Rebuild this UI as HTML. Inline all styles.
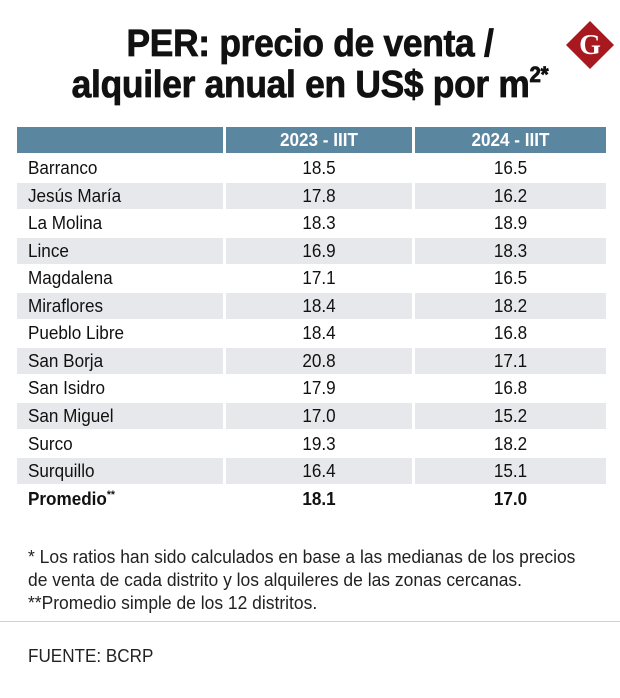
<!DOCTYPE html>
<html><head><meta charset="utf-8">
<style>
body{margin:0;background:#fff;}
#root{position:relative;width:620px;height:698px;overflow:hidden;font-family:"Liberation Sans",sans-serif;color:#111;}
.t{position:absolute;white-space:nowrap;}
.cell{position:absolute;height:26px;}
.txt{position:absolute;white-space:nowrap;font-size:18px;line-height:26px;transform:scaleX(0.95);}
</style></head>
<body>
<div id="root">
  <div class="t" style="left:0;width:620px;top:24px;text-align:center;font-weight:bold;font-size:38px;line-height:41px;transform:scaleX(0.93);letter-spacing:-0.3px;-webkit-text-stroke:0.8px #111">PER: precio de venta /<br>alquiler anual en US$ por m<span style="font-size:22px;position:relative;top:-15px;line-height:0">2*</span></div>
  <svg style="position:absolute;left:566px;top:21px" width="48" height="48">
    <polygon points="24,0 48,24 24,48 0,24" fill="#a8191f"/>
    <text x="24" y="33" text-anchor="middle" font-family="Liberation Serif" font-weight="bold" font-size="28" fill="#fff">G</text>
  </svg>
  <div id="table"></div>
  <div class="t" style="left:28px;top:546px;font-size:18px;line-height:23px;transform:scaleX(0.97);transform-origin:0 0;color:#222">* Los ratios han sido calculados en base a las medianas de los precios<br>de venta de cada distrito y los alquileres de las zonas cercanas.<br>**Promedio simple de los 12 distritos.</div>
  <div style="position:absolute;left:0;top:621px;width:620px;height:1px;background:#d0d0d0"></div>
  <div class="t" style="left:28px;top:645px;font-size:18px;line-height:22px;transform:scaleX(0.95);transform-origin:0 0;color:#222">FUENTE: BCRP</div>
</div>
<script>
const districts=["Barranco","Jesús María","La Molina","Lince","Magdalena","Miraflores","Pueblo Libre","San Borja","San Isidro","San Miguel","Surco","Surquillo"];
const v2023=[18.5,17.8,18.3,16.9,17.1,18.4,18.4,20.8,17.9,17.0,19.3,16.4];
const v2024=[16.5,16.2,18.9,18.3,16.5,18.2,16.8,17.1,16.8,15.2,18.2,15.1];
const headers=["","2023 - IIIT","2024 - IIIT"];
const avg2023=18.1, avg2024=17.0;
const tbl=document.getElementById('table');
const cols=[[17,206],[226,186],[415,191]];
function cell(x,w,y,bg,text,align,bold,color,name){
  const c=document.createElement('div');c.className='cell';
  
  
  c.style.left=x+'px';c.style.width=w+'px';c.style.top=y+'px';c.style.background=bg;
  const s=document.createElement('span');s.className='txt';s.innerHTML=text;
  if(align==='left'){s.style.left='11px';s.style.transformOrigin='0 50%';}
  else{s.style.left='0';s.style.width=w+'px';s.style.textAlign='center';}
  if(bold)s.style.fontWeight='bold';
  if(color)s.style.color=color;
  c.appendChild(s);tbl.appendChild(c);
}
headers.forEach((h,j)=>cell(cols[j][0],cols[j][1],127,'#5b86a0',h,'center',true,'#fff','header-cell'));
const pitch=27.55;
districts.forEach((d,i)=>{
  const y=155+i*pitch;const bg=i%2?'#e6e8eb':'#fff';
  cell(cols[0][0],cols[0][1],y,bg,d,'left',false,null,'district-name');
  cell(cols[1][0],cols[1][1],y,bg,v2023[i].toFixed(1),'center',false,null,'value-2023');
  cell(cols[2][0],cols[2][1],y,bg,v2024[i].toFixed(1),'center',false,null,'value-2024');
});
const ya=155+12*pitch;
cell(cols[0][0],cols[0][1],ya,'#fff','Promedio<span style="font-size:11px;position:relative;top:-7px;line-height:0">**</span>','left',true,null,'average-label');
cell(cols[1][0],cols[1][1],ya,'#fff',avg2023.toFixed(1),'center',true,null,'average-2023');
cell(cols[2][0],cols[2][1],ya,'#fff',avg2024.toFixed(1),'center',true,null,'average-2024');
</script>
</body></html>
